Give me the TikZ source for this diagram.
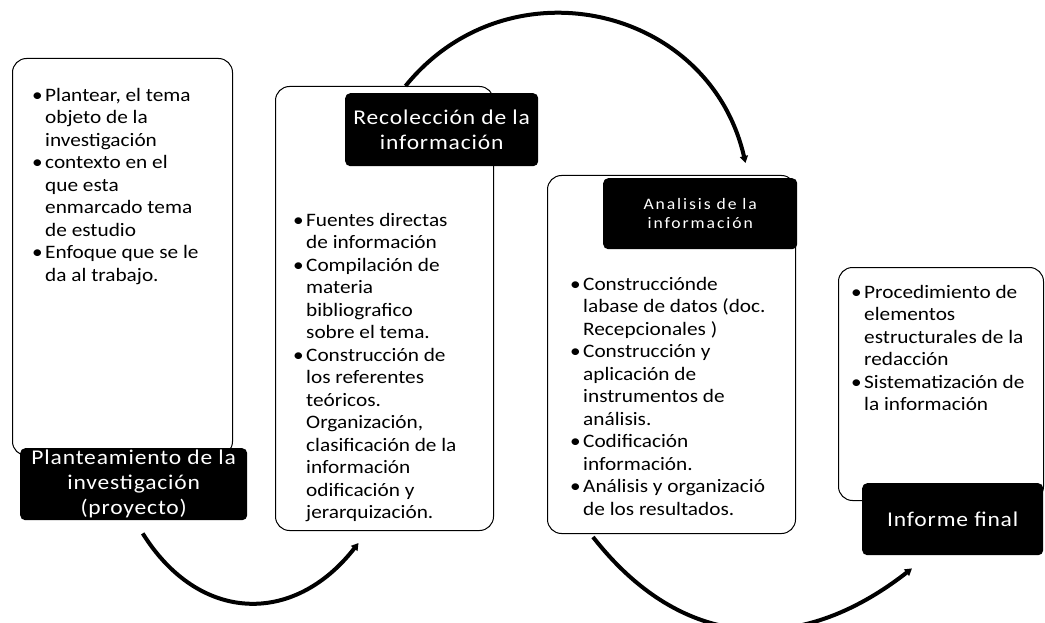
\documentclass[tikz,border=0pt]{standalone}
\usepackage{fontspec}
\setmainfont{Carlito}[FakeStretch=1.12]
\newfontfamily\lblfont{Carlito}[FakeStretch=1.12, LetterSpace=4]
\newfontfamily\thinfont{Carlito}[FakeStretch=1.1, LetterSpace=12]
\usetikzlibrary{arrows.meta, calc}

\newcommand{\itm}{\makebox[13pt][l]{\textbullet}}
\newcommand{\nxt}{\hspace*{13pt}}

\begin{document}
\begin{tikzpicture}[x=1pt, y=-1pt,
    box/.style={draw, line width=1pt, rounded corners=14pt, fill=white, anchor=north west, inner sep=0pt},
    lbl/.style={fill=black, text=white, rounded corners=5pt, align=center, anchor=north west, inner sep=0pt, font=\lblfont\fontsize{21}{25}\selectfont},
    items/.style={anchor=north west, align=left, inner sep=0pt, font=\fontsize{19}{22.5}\selectfont},
    flow/.style={line width=4pt, -{Triangle[length=7pt,width=8pt]}}]
    \useasboundingbox (0,0) rectangle (1045,623);

    % Planteamiento
    \node[box, minimum width=220pt, minimum height=397pt] (box1) at (12,58) {};
    \node[items] (txt1) at (32,88) {\itm Plantear, el tema\\
        \nxt objeto de la\\
        \nxt investigación\\
        \itm contexto en el\\
        \nxt que esta\\
        \nxt enmarcado tema\\
        \nxt de estudio\\
        \itm Enfoque que se le\\
        \nxt da al trabajo.};
    \node[lbl, minimum width=227pt, minimum height=72pt] (lbl1) at (20,448) {Planteamiento de la\\investigación\\(proyecto)};

    % Recoleccion
    \node[box, minimum width=218pt, minimum height=444pt] (box2) at (275,86) {};
    \node[items] (txt2) at (293,213) {\itm Fuentes directas\\
        \nxt de información\\
        \itm Compilación de\\
        \nxt materia\\
        \nxt bibliografico\\
        \nxt sobre el tema.\\
        \itm Construcción de\\
        \nxt los referentes\\
        \nxt teóricos.\\
        \nxt Organización,\\
        \nxt clasificación de la\\
        \nxt información\\
        \nxt odificación y\\
        \nxt jerarquización.};
    \node[lbl, minimum width=193pt, minimum height=73pt] (lbl2) at (345,93) {Recolección de la\\información};

    % Analisis
    \node[box, minimum width=248pt, minimum height=358pt] (box3) at (547,175) {};
    \node[items] (txt3) at (570,277) {\itm Construcciónde\\
        \nxt labase de datos (doc.\\
        \nxt Recepcionales )\\
        \itm Construcción y\\
        \nxt aplicación de\\
        \nxt instrumentos de\\
        \nxt análisis.\\
        \itm Codificación\\
        \nxt información.\\
        \itm Análisis y organizació\\
        \nxt de los resultados.};
    \node[lbl, minimum width=194pt, minimum height=71pt, font=\thinfont\fontsize{16}{19}\selectfont] (lbl3) at (603,178) {Analisis de la\\información};

    % Informe
    \node[box, minimum width=205pt, minimum height=233pt] (box4) at (838,267) {};
    \node[items] (txt4) at (851,285) {\itm Procedimiento de\\
        \nxt elementos\\
        \nxt estructurales de la\\
        \nxt redacción\\
        \itm Sistematización de\\
        \nxt la información};
    \node[lbl, minimum width=181pt, minimum height=72pt] (lbl4) at (862,483) {Informe final};

    % Flechas
    \draw[flow] ($(lbl1.south)+(9,13)$) to[out=-58, in=-128, looseness=1.25] ($(box2.south)+(-26,12)$);
    \draw[flow] ($(box2.north)+(21,0)$) to[out=51, in=103, looseness=1.19] ($(box3.north)+(74,-12)$);
    \draw[flow] ($(box3.south west)+(46,3)$) to[out=-52, in=-142, looseness=1.15] ($(lbl4.south west)+(50,13)$);
\end{tikzpicture}
\end{document}
